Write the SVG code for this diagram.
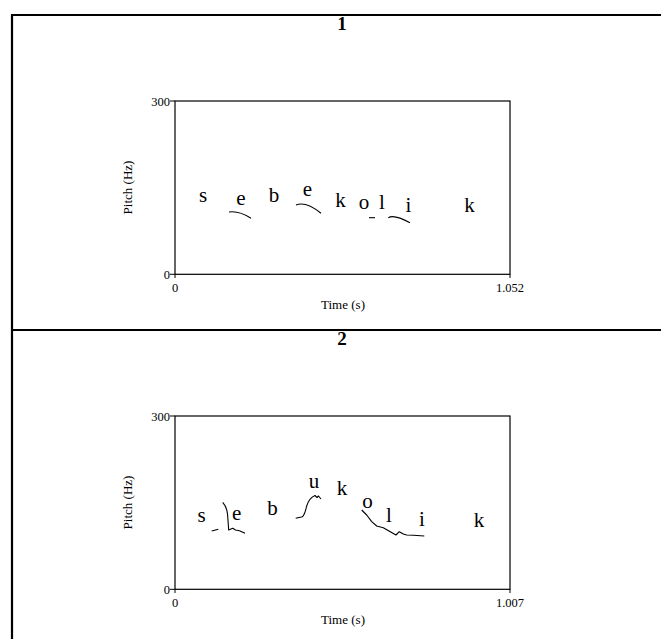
<svg xmlns="http://www.w3.org/2000/svg" width="661" height="639" viewBox="0 0 661 639">
<style>
.frame{stroke:#000;stroke-width:2.2;fill:none}
.box{stroke:#000;stroke-width:1.2;fill:none}
.tick{stroke:#000;stroke-width:1}
.f0{stroke:#000;stroke-width:1.1;fill:none;stroke-linejoin:round}
.ttl{font-family:"Liberation Serif",serif;font-weight:bold;font-size:19px;text-anchor:middle}
.ax{font-family:"Liberation Serif",serif;font-size:12.5px}
.axt{font-family:"Liberation Serif",serif;font-size:13px;text-anchor:middle}
.ph{font-family:"Liberation Serif",serif;font-size:21px;text-anchor:middle}
</style>
<rect width="661" height="639" fill="#fff"/>
<g id="frame">
<line class="frame" x1="12" y1="15" x2="12" y2="639"/>
<line class="frame" x1="11" y1="15" x2="661" y2="15"/>
<line class="frame" x1="12" y1="330" x2="661" y2="330"/>
</g>
<g id="panel1">
<text class="ttl" x="342" y="30">1</text>
<rect class="box" x="175" y="101" width="335" height="173.3"/>
<line class="tick" x1="170" y1="101" x2="175" y2="101"/>
<line class="tick" x1="170" y1="274.3" x2="175" y2="274.3"/>
<line class="tick" x1="175" y1="274.3" x2="175" y2="278"/>
<line class="tick" x1="510" y1="274.3" x2="510" y2="278"/>
<text class="ax" x="170" y="105.5" text-anchor="end">300</text>
<text class="ax" x="170" y="278.5" text-anchor="end">0</text>
<text class="ax" x="175" y="291.5" text-anchor="middle">0</text>
<text class="ax" x="510" y="291.5" text-anchor="middle">1.052</text>
<text class="axt" x="343" y="308.5">Time (s)</text>
<text class="axt" transform="translate(132,187.5) rotate(-90)">Pitch (Hz)</text>
<text class="ph" x="203" y="202">s</text>
<text class="ph" x="241" y="205">e</text>
<text class="ph" x="274" y="202">b</text>
<text class="ph" x="307.5" y="196">e</text>
<text class="ph" x="340.5" y="206.5">k</text>
<text class="ph" x="364" y="209">o</text>
<text class="ph" x="382" y="209">l</text>
<text class="ph" x="408.5" y="212">i</text>
<text class="ph" x="469.5" y="212">k</text>
<path class="f0" d="M229,212 Q239,210.5 251,218.3"/>
<path class="f0" d="M296,205 Q306,201 321,213.3"/>
<path class="f0" d="M369,217.7 L375,217.7"/>
<path class="f0" d="M388.3,217.7 Q394,214 410,222.7"/>
</g>
<g id="panel2">
<text class="ttl" x="342" y="345">2</text>
<rect class="box" x="175" y="416" width="335" height="173.3"/>
<line class="tick" x1="170" y1="416" x2="175" y2="416"/>
<line class="tick" x1="170" y1="589.3" x2="175" y2="589.3"/>
<line class="tick" x1="175" y1="589.3" x2="175" y2="593"/>
<line class="tick" x1="510" y1="589.3" x2="510" y2="593"/>
<text class="ax" x="170" y="420.5" text-anchor="end">300</text>
<text class="ax" x="170" y="593.5" text-anchor="end">0</text>
<text class="ax" x="175" y="606.5" text-anchor="middle">0</text>
<text class="ax" x="510" y="606.5" text-anchor="middle">1.007</text>
<text class="axt" x="343" y="623.5">Time (s)</text>
<text class="axt" transform="translate(132,502.5) rotate(-90)">Pitch (Hz)</text>
<text class="ph" x="201.5" y="521.5">s</text>
<text class="ph" x="236.7" y="520">e</text>
<text class="ph" x="272.5" y="515">b</text>
<text class="ph" x="314" y="488">u</text>
<text class="ph" x="342" y="495">k</text>
<text class="ph" x="367.5" y="508">o</text>
<text class="ph" x="389" y="522">l</text>
<text class="ph" x="422" y="526">i</text>
<text class="ph" x="479" y="526.5">k</text>
<path class="f0" d="M211.7,531 L218.3,529.3"/>
<path class="f0" d="M222.7,502.3 Q227,507 227.6,515 L228.7,530 L232.7,528.3 L235.5,530 L239.5,530.7 L245,533.3"/>
<path class="f0" d="M295.7,518.3 L302.5,516.7 Q305,514 306.5,506.5 Q309,498 315,495.5 L317,497.5 L318.5,496 L321,499"/>
<path class="f0" d="M361.7,510 L366.7,515 L371.7,521.7 L376.7,526 L383.3,527.7 L396,535 L399.3,531.7 L403.3,534 L406.7,535 L413.3,535.3 L424.3,536"/>
</g>
</svg>
